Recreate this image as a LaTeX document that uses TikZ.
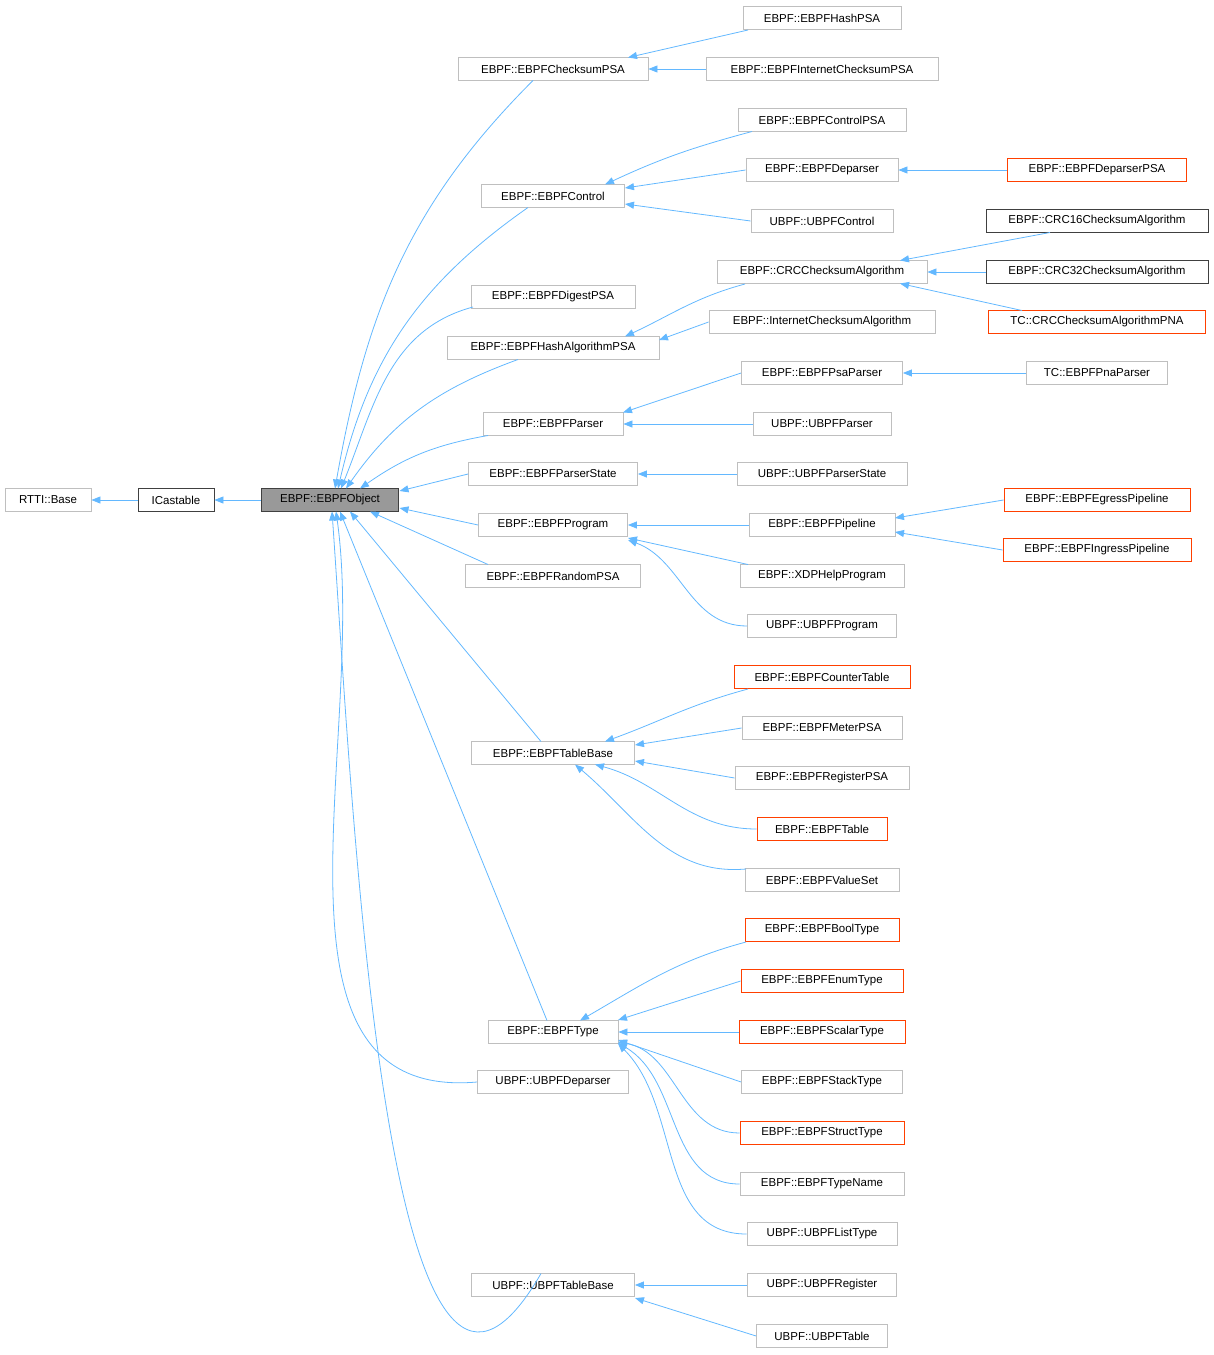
\documentclass[tikz,border=0pt]{standalone}
\usepackage{fontspec}
\setmainfont{Liberation Sans}
\usetikzlibrary{arrows.meta}
\definecolor{dox_edge}{RGB}{99, 184, 255}
\definecolor{dox_gray}{RGB}{191, 191, 191}
\definecolor{dox_dark}{RGB}{64, 64, 64}
\definecolor{dox_red}{RGB}{255, 64, 0}
\definecolor{dox_fill}{RGB}{153, 153, 153}
\begin{document}
\begin{tikzpicture}[x=1pt, y=-1pt,
    cls/.style={draw=dox_gray, line width=0.8pt, fill=white, rectangle, minimum height=23, inner sep=0pt, font=\fontsize{11.5}{13}\selectfont},
    dark/.style={cls, draw=dox_dark},
    undoc/.style={cls, draw=dox_red},
    inh/.style={draw=dox_edge, line width=0.8pt, {Triangle[length=9pt, width=7pt]}-}]
  \useasboundingbox (0,0) rectangle (1214,1355);

  % Racine
  \node[cls, minimum width=86] (rtti) at (48,500) {RTTI::Base};
  \node[dark, minimum width=76] (icast) at (176,500) {ICastable};
  \node[dark, fill=dox_fill, minimum width=137] (obj) at (330,500) {EBPF::EBPFObject};

  % Colonne 2
  \node[cls, minimum width=190] (cks) at (553,69) {EBPF::EBPFChecksumPSA};
  \node[cls, minimum width=143] (ctrl) at (553,196) {EBPF::EBPFControl};
  \node[cls, minimum width=164] (digest) at (553,297) {EBPF::EBPFDigestPSA};
  \node[cls, minimum width=212] (hashalg) at (553,348) {EBPF::EBPFHashAlgorithmPSA};
  \node[cls, minimum width=140] (parser) at (553,424) {EBPF::EBPFParser};
  \node[cls, minimum width=169] (pstate) at (553,474) {EBPF::EBPFParserState};
  \node[cls, minimum width=149] (prog) at (553,525) {EBPF::EBPFProgram};
  \node[cls, minimum width=175] (random) at (553,576) {EBPF::EBPFRandomPSA};
  \node[cls, minimum width=163] (tbase) at (553,753) {EBPF::EBPFTableBase};
  \node[cls, minimum width=130] (type) at (553,1032) {EBPF::EBPFType};
  \node[cls, minimum width=151] (udep) at (553,1082) {UBPF::UBPFDeparser};
  \node[cls, minimum width=163] (utbase) at (553,1285) {UBPF::UBPFTableBase};

  % Colonne 3
  \node[cls, minimum width=158] (hashpsa) at (822,18) {EBPF::EBPFHashPSA};
  \node[cls, minimum width=232] (icpsa) at (822,69) {EBPF::EBPFInternetChecksumPSA};
  \node[cls, minimum width=168] (ctrlpsa) at (822,120) {EBPF::EBPFControlPSA};
  \node[cls, minimum width=152] (dep) at (822,170) {EBPF::EBPFDeparser};
  \node[cls, minimum width=142] (uctrl) at (822,221) {UBPF::UBPFControl};
  \node[cls, minimum width=210] (crc) at (822,272) {EBPF::CRCChecksumAlgorithm};
  \node[cls, minimum width=226] (icalg) at (822,322) {EBPF::InternetChecksumAlgorithm};
  \node[cls, minimum width=161] (psaparser) at (822,373) {EBPF::EBPFPsaParser};
  \node[cls, minimum width=138] (uparser) at (822,424) {UBPF::UBPFParser};
  \node[cls, minimum width=170] (upstate) at (822,474) {UBPF::UBPFParserState};
  \node[cls, minimum width=146] (pipe) at (822,525) {EBPF::EBPFPipeline};
  \node[cls, minimum width=164] (xdp) at (822,576) {EBPF::XDPHelpProgram};
  \node[cls, minimum width=149] (uprog) at (822,626) {UBPF::UBPFProgram};
  \node[undoc, minimum width=176] (counter) at (822,677) {EBPF::EBPFCounterTable};
  \node[cls, minimum width=160] (meter) at (822,728) {EBPF::EBPFMeterPSA};
  \node[cls, minimum width=174] (register) at (822,778) {EBPF::EBPFRegisterPSA};
  \node[undoc, minimum width=130] (table) at (822,829) {EBPF::EBPFTable};
  \node[cls, minimum width=154] (valset) at (822,880) {EBPF::EBPFValueSet};
  \node[undoc, minimum width=154] (bool) at (822,930) {EBPF::EBPFBoolType};
  \node[undoc, minimum width=162] (enum) at (822,981) {EBPF::EBPFEnumType};
  \node[undoc, minimum width=166] (scalar) at (822,1032) {EBPF::EBPFScalarType};
  \node[cls, minimum width=161] (stack) at (822,1082) {EBPF::EBPFStackType};
  \node[undoc, minimum width=164] (struct) at (822,1133) {EBPF::EBPFStructType};
  \node[cls, minimum width=164] (tname) at (822,1184) {EBPF::EBPFTypeName};
  \node[cls, minimum width=150] (ulist) at (822,1234) {UBPF::UBPFListType};
  \node[cls, minimum width=149] (ureg) at (822,1285) {UBPF::UBPFRegister};
  \node[cls, minimum width=131] (utable) at (822,1336) {UBPF::UBPFTable};

  % Colonne 4
  \node[undoc, minimum width=179] (deppsa) at (1097,170) {EBPF::EBPFDeparserPSA};
  \node[dark, minimum width=222] (crc16) at (1097,221) {EBPF::CRC16ChecksumAlgorithm};
  \node[dark, minimum width=222] (crc32) at (1097,272) {EBPF::CRC32ChecksumAlgorithm};
  \node[undoc, minimum width=217] (tccrc) at (1097,322) {TC::CRCChecksumAlgorithmPNA};
  \node[cls, minimum width=141] (pnaparser) at (1097,373) {TC::EBPFPnaParser};
  \node[undoc, minimum width=186] (egress) at (1097,500) {EBPF::EBPFEgressPipeline};
  \node[undoc, minimum width=188] (ingress) at (1097,550) {EBPF::EBPFIngressPipeline};

  % Héritage depuis la racine
  \draw[inh] (rtti) -- (icast);
  \draw[inh] (icast) -- (obj);
  \draw[inh] (335,488.5) to[out=80, in=225] (533,80.5);
  \draw[inh] (338,488.5) to[out=77, in=215] (528,207.5);
  \draw[inh] (341,488.5) to[out=68, in=195] (473,307);
  \draw[inh] (346,488.5) to[out=55, in=200] (518,359.5);
  \draw[inh] (360,488.5) to[out=35, in=190] (488,435.5);
  \draw[inh] (399.5,491) -- (pstate.west);
  \draw[inh] (399.5,508) -- (prog.west);
  \draw[inh] (370,511.5) -- (488,564.5);
  \draw[inh] (350,511.5) -- (541,741.5);
  \draw[inh] (340,511.5) -- (547,1020.5);
  \draw[inh] (336,511.5) to[out=-82, in=185] (udep.west);
  \draw[inh] (332,511.5) to[out=-86, in=240] (541,1273.5);

  % Colonne 2 -> 3
  \draw[inh] (628,57.5) -- (748,30);
  \draw[inh] (cks.east) -- (icpsa.west);
  \draw[inh] (605,184.5) to[out=25, in=195] (752,131.5);
  \draw[inh] (625,188) -- (dep.west);
  \draw[inh] (625,204) -- (uctrl.west);
  \draw[inh] (dep.east) -- (deppsa.west);
  \draw[inh] (625,336.5) to[out=25, in=195] (745,284);
  \draw[inh] (659,340) -- (icalg.west);
  \draw[inh] (900,260.5) -- (1050,232.5);
  \draw[inh] (crc.east) -- (crc32.west);
  \draw[inh] (900,283.5) -- (1022,310.5);
  \draw[inh] (623,412.5) -- (psaparser.west);
  \draw[inh] (parser.east) -- (uparser.west);
  \draw[inh] (psaparser.east) -- (pnaparser.west);
  \draw[inh] (pstate.east) -- (upstate.west);
  \draw[inh] (prog.east) -- (pipe.west);
  \draw[inh] (628,538) -- (748,564.5);
  \draw[inh] (628,540) to[out=-20, in=180] (uprog.west);
  \draw[inh] (895,518) -- (egress.west);
  \draw[inh] (895,532) -- (ingress.west);
  \draw[inh] (605,741.5) to[out=20, in=195] (748,689);
  \draw[inh] (635,745) -- (meter.west);
  \draw[inh] (635,761) -- (register.west);
  \draw[inh] (595,764.5) to[out=-15, in=180] (table.west);
  \draw[inh] (575,764.5) to[out=-40, in=185] (746,869);
  \draw[inh] (580,1020.5) to[out=30, in=195] (746,942);
  \draw[inh] (618,1020) -- (enum.west);
  \draw[inh] (type.east) -- (scalar.west);
  \draw[inh] (618,1040) -- (stack.west);
  \draw[inh] (618,1042) to[out=-10, in=180] (struct.west);
  \draw[inh] (618,1043) to[out=-30, in=180] (tname.west);
  \draw[inh] (618,1043.5) to[out=-45, in=180] (ulist.west);
  \draw[inh] (utbase.east) -- (ureg.west);
  \draw[inh] (635,1298) -- (utable.west);
\end{tikzpicture}
\end{document}
